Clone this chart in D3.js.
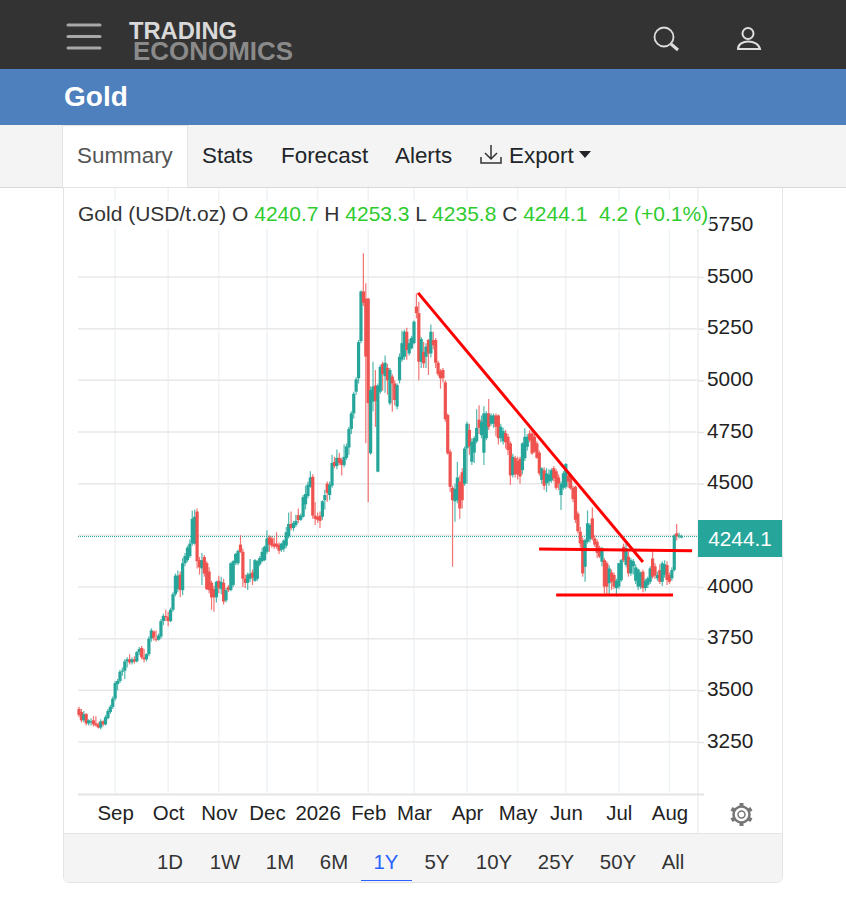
<!DOCTYPE html>
<html>
<head>
<meta charset="utf-8">
<title>Gold</title>
<script src="https://cdn.jsdelivr.net/npm/d3@7"></script>
<style>
	html, body { margin: 0; padding: 0; background: #fff; }
	svg { display: block; font-family: "Liberation Sans", Arial, sans-serif; }
	.axis path { display: none; }
</style>
</head>
<body>
<script>
// daily candles
var opens = [
	3410,3395,3355,3385,3340,3345,3355,3340,3335,3320,
	3350,3335,3365,3395,3420,3460,3530,3545,3590,3595,
	3640,3650,3635,3650,3640,3685,3705,3660,3650,3675,
	3750,3785,3750,3745,3760,3835,3860,3855,3835,3890,
	3965,3990,4060,3985,4115,4130,4150,4210,4210,4365,
	4130,4090,4145,4115,4075,4020,3990,3950,4030,3990,
	4020,3935,4000,3985,4010,4115,4115,4205,4170,4040,
	4020,4040,4070,4030,4040,4110,4125,4130,4170,4240,
	4235,4210,4210,4205,4180,4185,4200,4245,4305,4285,
	4300,4348,4325,4340,4400,4440,4485,4533,4345,4340,
	4345,4340,4420,4500,4445,4490,4605,4585,4625,4615,
	4590,4625,4675,4765,4840,4945,5010,5190,5430,5395,
	5395,4647,4897,4975,4558,4945,5080,5020,5060,4889,
	5018,4985,4873,5000,5100,5114,5235,5130,5155,5180,
	5357,5325,5090,5139,5114,5195,5130,5195,5195,5085,
	5045,5050,4990,4832,4655,4480,4415,4420,4510,4555,
	4500,4671,4760,4606,4650,4705,4810,4735,4650,4720,
	4840,4790,4790,4830,4830,4720,4705,4745,4727,4695,
	4542,4625,4610,4620,4566,4623,4678,4743,4743,4727,
	4695,4650,4518,4565,4502,4510,4515,4575,4560,4530,
	4445,4480,4485,4540,4542,4480,4485,4355,4268,4227,
	4098,4219,4230,4332,4235,4219,4190,4122,4130,4115,
	4018,4070,4058,3995,4002,4033,4195,4107,4147,4066,
	4100,4030,4002,4002,4074,3995,4010,4025,4138,4100,
	4042,4082,4025,4060,4106,4058,4042,4082,4260,4245,4240.7
];
var highs = [
	3420,3410,3400,3390,3360,3365,3375,3375,3345,3360,
	3355,3380,3410,3430,3470,3545,3555,3600,3610,3650,
	3660,3675,3660,3665,3690,3710,3715,3700,3680,3760,
	3800,3790,3790,3775,3845,3870,3890,3880,3900,3975,
	4065,4080,4075,4140,4165,4200,4230,4370,4375,4380,
	4145,4165,4155,4125,4095,4030,4005,4030,4055,4050,
	4040,3995,4010,4120,4130,4165,4180,4250,4185,4060,
	4070,4135,4085,4135,4130,4150,4190,4200,4275,4250,
	4245,4240,4265,4215,4215,4230,4290,4360,4365,4320,
	4350,4380,4355,4445,4490,4510,4560,4545,4410,4360,
	4365,4420,4470,4510,4510,4640,4630,4665,4650,4625,
	4690,4695,4775,4850,4945,5015,5195,5435,5615,5470,
	5400,4970,5090,5050,4985,5075,5090,5120,5080,5060,
	5030,5000,4985,5130,5240,5245,5255,5200,5215,5290,
	5420,5380,5210,5185,5180,5200,5270,5235,5205,5095,
	5055,5060,5000,4840,4665,4490,4500,4606,4540,4575,
	4680,4800,4790,4720,4730,4860,4880,4830,4875,4850,
	4910,4840,4840,4840,4835,4790,4770,4760,4740,4705,
	4645,4635,4630,4630,4700,4768,4740,4760,4765,4740,
	4705,4660,4580,4580,4575,4570,4575,4585,4570,4545,
	4510,4560,4600,4560,4550,4490,4490,4365,4290,4240,
	4235,4370,4310,4385,4250,4230,4200,4195,4140,4125,
	4105,4085,4070,4040,4115,4135,4210,4210,4170,4140,
	4135,4110,4090,4075,4085,4040,4050,4100,4180,4115,
	4075,4110,4125,4130,4125,4070,4095,4255,4305,4262,4253.3
];
var lows = [
	3370,3345,3345,3330,3330,3330,3325,3325,3315,3310,
	3325,3330,3360,3385,3410,3450,3500,3535,3570,3555,
	3610,3625,3625,3630,3635,3670,3650,3635,3640,3665,
	3735,3740,3735,3740,3750,3815,3835,3810,3830,3880,
	3955,3975,3950,3960,4100,4120,4140,4200,4205,4090,
	4060,4010,4050,3985,3970,3890,3880,3925,3970,3965,
	3915,3925,3975,3980,4000,4105,4105,4165,4000,3995,
	3985,4025,4010,4025,4030,4100,4120,4125,4160,4170,
	4190,4185,4185,4160,4170,4170,4190,4235,4275,4270,
	4290,4310,4320,4335,4375,4430,4480,4330,4300,4310,
	4285,4325,4375,4413,4420,4480,4575,4570,4590,4540,
	4580,4615,4640,4740,4815,4930,4985,5180,5360,4695,
	4410,4640,4850,4775,4555,4935,4950,4940,4930,4880,
	4848,4880,4860,4985,5090,5100,5100,5120,5150,5175,
	5300,5000,5060,5060,5060,5026,5110,5150,5060,5020,
	4960,4990,4800,4640,4460,4098,4316,4405,4330,4380,
	4490,4500,4640,4590,4600,4695,4740,4720,4590,4710,
	4760,4780,4770,4730,4690,4700,4690,4670,4640,4495,
	4530,4530,4520,4500,4545,4610,4660,4700,4640,4650,
	4620,4540,4500,4470,4460,4490,4505,4510,4470,4470,
	4373,4470,4475,4480,4470,4410,4310,4260,4190,4050,
	4026,4210,4215,4225,4195,4140,4140,4100,3970,3965,
	3960,3985,3990,3953,3990,4025,4120,4095,4050,4055,
	4060,4015,3985,3990,3975,3980,3995,4015,4040,4040,
	4030,4015,4005,4045,4010,4015,4030,4075,4225,4235,4235.8
];
var closes = [
	3380,3355,3385,3340,3355,3350,3335,3330,3320,3350,
	3335,3370,3400,3420,3460,3535,3545,3590,3595,3640,
	3650,3635,3650,3640,3685,3700,3660,3650,3675,3750,
	3790,3755,3745,3765,3835,3860,3855,3835,3890,3965,
	4055,4055,3985,4115,4150,4190,4210,4330,4340,4125,
	4095,4130,4065,3990,3985,3950,3950,4025,3995,4025,
	3930,3985,3985,4115,4125,4160,4175,4170,4040,4020,
	4060,4065,4045,4130,4125,4140,4170,4195,4235,4205,
	4200,4195,4195,4175,4210,4225,4265,4305,4285,4310,
	4320,4324,4345,4435,4450,4495,4530,4345,4330,4325,
	4320,4415,4445,4455,4495,4600,4585,4625,4600,4590,
	4630,4680,4765,4840,4935,5005,5185,5430,5375,5115,
	4890,4953,4970,4900,4975,5065,5030,5085,5000,5050,
	4985,4905,4977,5114,5180,5235,5147,5180,5205,5284,
	5325,5090,5200,5082,5163,5130,5235,5170,5085,5030,
	5010,5010,4812,4647,4485,4420,4475,4530,4380,4420,
	4670,4790,4680,4703,4720,4770,4770,4800,4840,4840,
	4775,4830,4830,4775,4720,4775,4755,4700,4663,4540,
	4630,4545,4545,4535,4695,4727,4727,4710,4646,4655,
	4625,4550,4574,4490,4550,4545,4565,4525,4480,4500,
	4500,4550,4595,4510,4477,4425,4325,4270,4211,4066,
	4227,4308,4300,4235,4205,4165,4147,4187,4002,4002,
	4090,4025,4002,4030,4115,4130,4130,4187,4066,4130,
	4125,4095,4085,4070,3995,4030,4042,4090,4050,4055,
	4058,4025,4115,4110,4034,4025,4082,4250,4245,4250,4244.1
];

var monthBars = [15,37,58,78,99,120,139,161,182,202,224,245];
var monthLabels = ["Sep","Oct","Nov","Dec","2026","Feb","Mar","Apr","May","Jun","Jul","Aug"];
var priceTicks = [3250,3500,3750,4000,4250,4500,4750,5000,5250,5500,5750];
var lastPrice = 4244.1;

// hand drawn lines on the chart: [bar, price]
var trendLines = [
	[[140.7,5423],[234,4121]],
	[[190.9,4184],[254.4,4175]],
	[[198,3961],[246.5,3961]]
];

var tabs = ["Summary","Stats","Forecast","Alerts","Export"];
var tabX = [77,202,281,395,509];
var ranges = ["1D","1W","1M","6M","1Y","5Y","10Y","25Y","50Y","All"];
var rangeX = [170,225,280,334,386,437,494,556,618,673];
var legendParts = [
	["Gold (USD/t.oz) O ","#333"],["4240.7","#2fcb2f"],[" H ","#333"],["4253.3","#2fcb2f"],
	[" L ","#333"],["4235.8","#2fcb2f"],[" C ","#333"],["4244.1","#2fcb2f"],["\u00a0 4.2 (+0.1%)","#2fcb2f"]
];

var up = "#26a69a", down = "#ef5350";

var svg = d3.select("body").append("svg")
	.attr("width", 846)
	.attr("height", 904);

// page header
svg.append("rect").attr("width", 846).attr("height", 69).attr("fill", "#333");
svg.append("rect").attr("y", 69).attr("width", 846).attr("height", 56).attr("fill", "#4d80bc");
svg.append("rect").attr("y", 125).attr("width", 846).attr("height", 62).attr("fill", "#f4f4f4");
svg.append("line").attr("x1", 0).attr("x2", 846).attr("y1", 187.5).attr("y2", 187.5).attr("stroke", "#d8d8d8");

svg.selectAll(".burger")
	.data([25,36.5,48])
	.enter().append("line")
	.attr("x1", 68).attr("x2", 100)
	.attr("y1", function(d){return d;}).attr("y2", function(d){return d;})
	.attr("stroke", "#a8a8a8").attr("stroke-width", 3).attr("stroke-linecap", "round");

svg.append("text").text("TRADING")
	.attr("x", 129).attr("y", 38.5)
	.attr("textLength", 108).attr("lengthAdjust", "spacingAndGlyphs")
	.attr("font-size", 24).attr("font-weight", "bold").attr("fill", "#d9d9d9");
svg.append("text").text("ECONOMICS")
	.attr("x", 133).attr("y", 59.5)
	.attr("textLength", 160).attr("lengthAdjust", "spacingAndGlyphs")
	.attr("font-size", 26).attr("font-weight", "bold").attr("fill", "#8a8a8a");

// search and user icons
svg.append("circle").attr("cx", 664).attr("cy", 37).attr("r", 9.5)
	.attr("fill", "none").attr("stroke", "#ddd").attr("stroke-width", 1.8);
svg.append("line").attr("x1", 671).attr("y1", 44).attr("x2", 678).attr("y2", 50)
	.attr("stroke", "#ddd").attr("stroke-width", 3);
svg.append("circle").attr("cx", 748).attr("cy", 33.5).attr("r", 5.5)
	.attr("fill", "none").attr("stroke", "#ddd").attr("stroke-width", 2);
svg.append("path").attr("d", "M738 49 C738 39 758 39 760 49 Z")
	.attr("fill", "none").attr("stroke", "#ddd").attr("stroke-width", 2);

svg.append("text").text("Gold")
	.attr("x", 64).attr("y", 106)
	.attr("font-size", 28).attr("font-weight", "bold").attr("fill", "#fff");

// tabs
svg.append("rect").attr("x", 62.5).attr("y", 125.5).attr("width", 125).attr("height", 62)
	.attr("fill", "#fff").attr("stroke", "#e4e4e4");
svg.selectAll(".tab")
	.data(tabs)
	.enter().append("text")
	.attr("class", "tab")
	.attr("x", function(d,i){return tabX[i];})
	.attr("y", 163)
	.attr("font-size", 22.4)
	.attr("fill", function(d,i){return i == 0 ? "#555" : "#212529";})
	.text(function(d){return d;});
svg.append("path").attr("d", "M491 145 V159 M485 153 L491 159 L497 153 M481 157 V163 H501 V157")
	.attr("fill", "none").attr("stroke", "#333").attr("stroke-width", 1.5);
svg.append("path").attr("d", "M579 151 H591 L585 158 Z").attr("fill", "#212529");

// chart frame
svg.append("path").attr("d", "M63.5 188 V876 Q63.5 882.5 70 882.5 H776 Q782.5 882.5 782.5 876 V188")
	.attr("fill", "none").attr("stroke", "#e4e4e4");

var x = d3.scaleLinear().domain([0, 250]).range([79, 681.5]);
var y = d3.scaleLinear().domain([3250, 5500]).range([742, 277]);

// vertical grid
svg.selectAll(".vgrid")
	.data(monthBars)
	.enter().append("line")
	.attr("x1", function(d){return x(d);}).attr("x2", function(d){return x(d);})
	.attr("y1", 188).attr("y2", 793)
	.attr("stroke", "#eff3f6").attr("stroke-width", 1.5);

// horizontal grid
svg.selectAll(".hgrid")
	.data(priceTicks)
	.enter().append("line")
	.attr("x1", 78).attr("x2", 697)
	.attr("y1", function(d){return y(d);}).attr("y2", function(d){return y(d);})
	.attr("stroke", "#e8e8e8").attr("stroke-width", 1.5);

svg.append("line").attr("x1", 698).attr("x2", 698).attr("y1", 188).attr("y2", 833)
	.attr("stroke", "#e4e4e4");
svg.append("line").attr("x1", 78).attr("x2", 704).attr("y1", 794.5).attr("y2", 794.5)
	.attr("stroke", "#e4e4e4").attr("stroke-width", 2);
svg.append("line").attr("x1", 64).attr("x2", 782).attr("y1", 833.5).attr("y2", 833.5)
	.attr("stroke", "#e4e4e4");

// last price line
svg.append("line")
	.attr("x1", 78).attr("x2", 697)
	.attr("y1", y(lastPrice)).attr("y2", y(lastPrice))
	.attr("stroke", up).attr("stroke-dasharray", "1 1");

// candles
var candles = svg.selectAll(".candle")
	.data(d3.range(closes.length))
	.enter().append("g")
	.attr("class", "candle");

candles.append("line")
	.attr("x1", function(d){return x(d);}).attr("x2", function(d){return x(d);})
	.attr("y1", function(d){return y(highs[d]);}).attr("y2", function(d){return y(lows[d]);})
	.attr("stroke", function(d){return closes[d] >= opens[d] ? up : down;})
	.attr("stroke-opacity", 0.8)
	.attr("stroke-width", 1.2);

candles.append("rect")
	.attr("x", function(d){return x(d) - 1.6;})
	.attr("width", 3.2)
	.attr("y", function(d){return y(Math.max(opens[d], closes[d]));})
	.attr("height", function(d){return Math.max(1, Math.abs(y(opens[d]) - y(closes[d])));})
	.attr("fill", function(d){return closes[d] >= opens[d] ? up : down;});

// trend lines
var trend = d3.line()
	.x(function(d){return x(d[0]);})
	.y(function(d){return y(d[1]);});

svg.selectAll(".trend")
	.data(trendLines)
	.enter().append("path")
	.attr("d", trend)
	.attr("fill", "none")
	.attr("stroke", "#ff0000")
	.attr("stroke-width", 3);

// axes
var yAxis = d3.axisRight(y)
	.tickValues(priceTicks.filter(function(d){return d != 4250;}))
	.tickSize(6)
	.tickPadding(3)
	.tickFormat(d3.format("d"));

var yG = svg.append("g")
	.attr("class", "axis")
	.attr("transform", "translate(698,0)")
	.call(yAxis);
yG.selectAll("line").attr("stroke", "#e4e4e4").attr("stroke-width", 1.5);
yG.selectAll("text")
	.attr("font-size", 20.8)
	.attr("font-family", "Liberation Sans")
	.attr("fill", "#222")
	.attr("dy", "0.24em");

var xAxis = d3.axisBottom(x)
	.tickValues(monthBars)
	.tickSize(0)
	.tickPadding(0)
	.tickFormat(function(d,i){return monthLabels[i];});

var xG = svg.append("g")
	.attr("class", "axis")
	.attr("transform", "translate(0,806)")
	.call(xAxis);
xG.selectAll("text").attr("font-size", 20.4).attr("font-family", "Liberation Sans").attr("fill", "#222");

// price label
svg.append("rect").attr("x", 698).attr("y", 520).attr("width", 84).attr("height", 37).attr("fill", up);
svg.append("text").text(d3.format(".1f")(lastPrice))
	.attr("x", 740).attr("y", 546)
	.attr("text-anchor", "middle")
	.attr("font-size", 20.8).attr("fill", "#fff");

// legend
svg.append("rect").attr("x", 76).attr("y", 201).attr("width", 634).attr("height", 28)
	.attr("fill", "#fff").attr("fill-opacity", 0.85);
svg.append("text")
	.attr("x", 78).attr("y", 221)
	.attr("font-size", 21)
	.attr("xml:space", "preserve")
	.selectAll("tspan")
	.data(legendParts)
	.enter().append("tspan")
	.attr("fill", function(d){return d[1];})
	.text(function(d){return d[0];});

// gear
svg.append("circle").attr("cx", 741.5).attr("cy", 814.5).attr("r", 8)
	.attr("fill", "none").attr("stroke", "#777").attr("stroke-width", 2.5);
svg.append("circle").attr("cx", 741.5).attr("cy", 814.5).attr("r", 3.5)
	.attr("fill", "none").attr("stroke", "#777").attr("stroke-width", 1.5);
svg.selectAll(".cog")
	.data(d3.range(0, 360, 60))
	.enter().append("rect")
	.attr("x", 739.5).attr("y", 803).attr("width", 4).attr("height", 4)
	.attr("fill", "#777")
	.attr("transform", function(d){return "rotate(" + d + " 741.5 814.5)";});

// range bar
svg.append("path").attr("d", "M64 834 H782 V876 Q782 882 776 882 H70 Q64 882 64 876 Z").attr("fill", "#f4f4f4");
svg.selectAll(".range")
	.data(ranges)
	.enter().append("text")
	.attr("x", function(d,i){return rangeX[i];})
	.attr("y", 869)
	.attr("text-anchor", "middle")
	.attr("font-size", 20.4)
	.attr("fill", function(d){return d == "1Y" ? "#2962ff" : "#333";})
	.text(function(d){return d;});
svg.append("line").attr("x1", 361).attr("x2", 412).attr("y1", 880.5).attr("y2", 880.5)
	.attr("stroke", "#2962ff");
</script>
</body>
</html>
